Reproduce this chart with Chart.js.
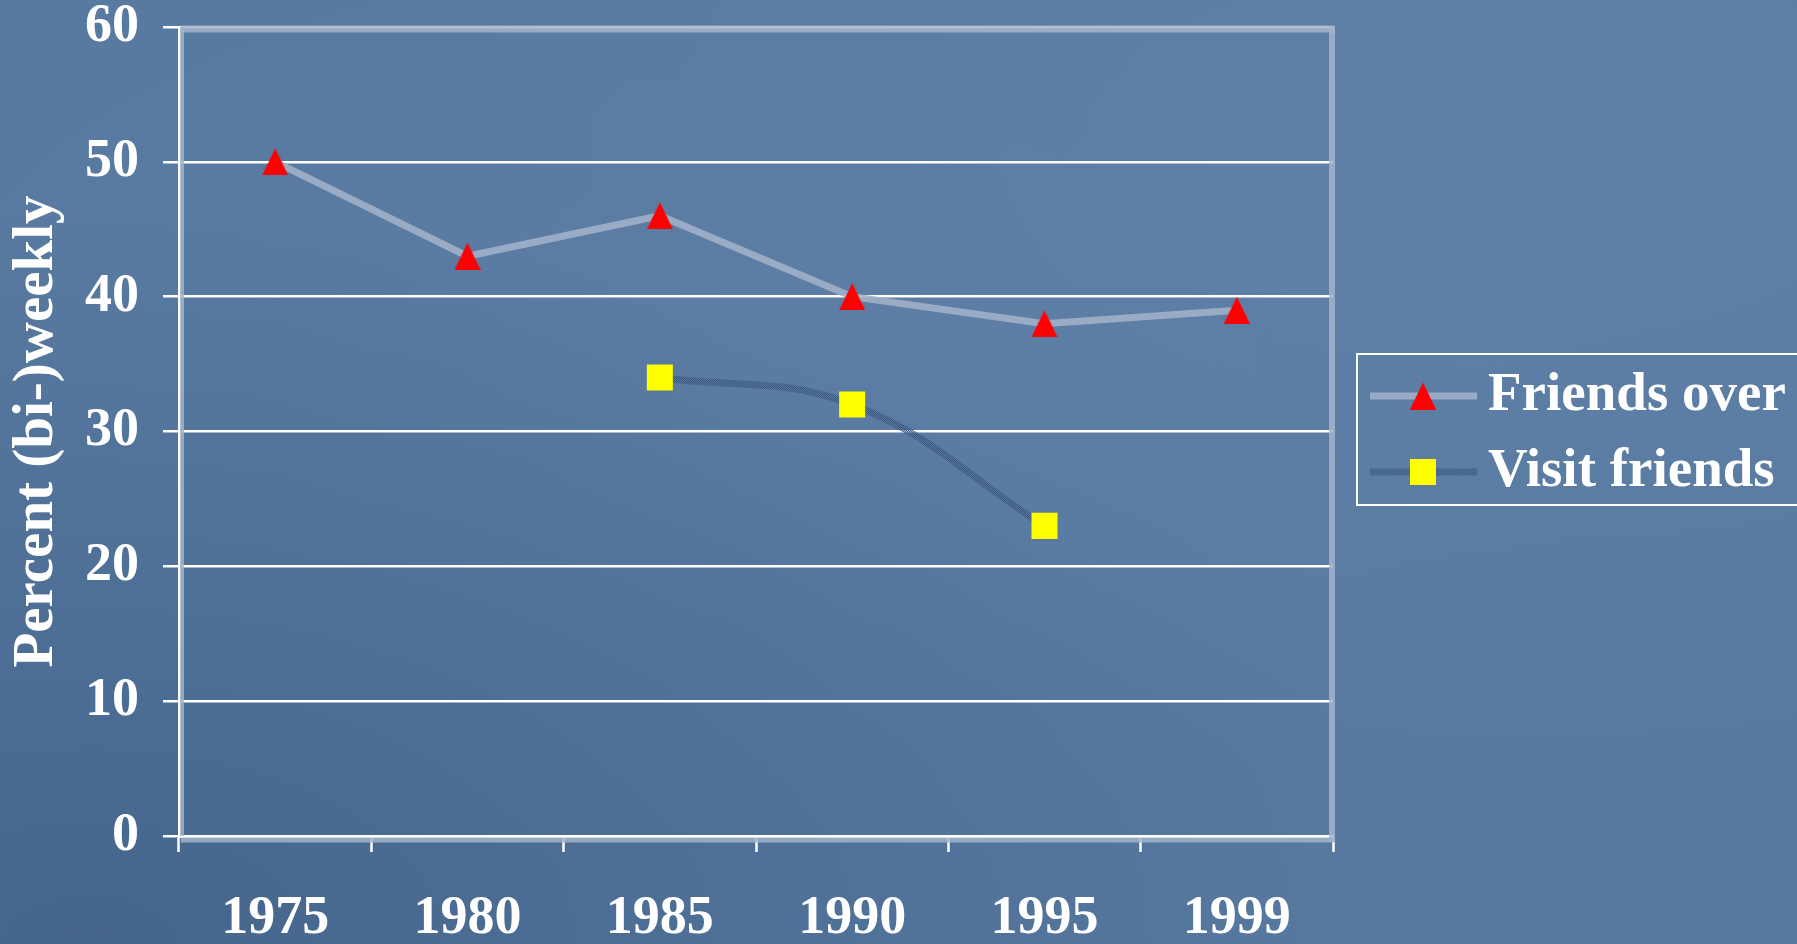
<!DOCTYPE html>
<html><head><meta charset="utf-8">
<script src="https://cdn.jsdelivr.net/npm/chart.js@4.4.0/dist/chart.umd.min.js"></script>
<style>
html,body{margin:0;padding:0;width:1797px;height:944px;overflow:hidden;}
body{
  background:
    radial-gradient(ellipse at 85% 15%, rgba(115,145,182,0.25), rgba(115,145,182,0) 55%),
    radial-gradient(ellipse at 5% 100%, rgba(45,75,115,0.45), rgba(45,75,115,0) 55%),
    radial-gradient(ellipse at 40% 40%, rgba(100,130,168,0.2), rgba(100,130,168,0) 60%),
    #587aa1;
}
#c{display:block;}
</style></head>
<body>
<canvas id="c" width="1797" height="944"></canvas>
<script>
// ---- data ----
const years = ['1975', '1980', '1985', '1990', '1995', '1999'];
const friendsOver = [50, 43, 46, 40, 38, 39];
const visitFriends = [null, null, 34, 32, 23, null];
const seriesLabels = ['Friends over', 'Visit friends'];
const yAxisTitle = 'Percent (bi-)weekly';
const yMin = 0, yMax = 60, yStep = 10;

// ---- styles ----
const FONT = '"Liberation Serif", "Times New Roman", serif';
const canvas = document.getElementById('c');
const mainCtx = canvas.getContext('2d');

function makeHatch() {
  const p = document.createElement('canvas');
  p.width = 2; p.height = 2;
  const g = p.getContext('2d');
  g.fillStyle = 'rgba(58,88,130,0.9)';
  g.fillRect(0, 0, 1, 1);
  g.fillRect(1, 1, 1, 1);
  g.fillStyle = 'rgba(75,105,145,0.5)';
  g.fillRect(1, 0, 1, 1);
  g.fillRect(0, 1, 1, 1);
  return mainCtx.createPattern(p, 'repeat');
}
const hatch = makeHatch();

function makeTriangle() {
  const w = 26, h = 27;
  const p = document.createElement('canvas');
  p.width = w; p.height = h;
  const g = p.getContext('2d');
  g.fillStyle = '#ff0000';
  g.beginPath(); g.moveTo(w / 2, 0); g.lineTo(w, h); g.lineTo(0, h); g.closePath(); g.fill();
  return p;
}
const triangleMark = makeTriangle();

const plotFrame = {
  id: 'plotFrame',
  beforeDatasetsDraw(chart) {
    const ctx = chart.ctx, a = chart.chartArea;
    ctx.save();
    ctx.strokeStyle = 'rgba(165,180,202,0.85)';
    ctx.lineWidth = 7;
    ctx.beginPath(); ctx.moveTo(a.left + 2, a.top + 2); ctx.lineTo(a.right + 2, a.top + 2); ctx.stroke();
    ctx.lineWidth = 6;
    ctx.beginPath(); ctx.moveTo(a.right - 1, a.top); ctx.lineTo(a.right - 1, a.bottom + 6); ctx.stroke();
    ctx.lineWidth = 4;
    ctx.beginPath(); ctx.moveTo(a.left + 3, a.top); ctx.lineTo(a.left + 3, a.bottom); ctx.stroke();
    ctx.lineWidth = 5;
    ctx.beginPath(); ctx.moveTo(a.left + 2, a.bottom + 4); ctx.lineTo(a.right + 2, a.bottom + 4); ctx.stroke();
    ctx.restore();
  }
};

const legendBox = {
  id: 'legendBox',
  afterDraw(chart) {
    const ctx = chart.ctx, a = chart.chartArea;
    const left = a.right + 24, top = 354, right = 1799, bottom = 505;
    const rows = [396, 472];
    ctx.save();
    ctx.strokeStyle = '#ffffff';
    ctx.lineWidth = 2;
    ctx.strokeRect(left, top, right - left, bottom - top);
    chart.data.datasets.forEach((ds, i) => {
      const y = rows[i];
      ctx.save();
      ctx.strokeStyle = ds.borderColor;
      ctx.lineWidth = ds.borderWidth;
      ctx.beginPath(); ctx.moveTo(left + 13, y); ctx.lineTo(left + 120, y); ctx.stroke();
      ctx.fillStyle = ds.pointBackgroundColor;
      ctx.strokeStyle = ds.pointBackgroundColor;
      Chart.helpers.drawPoint(ctx, {pointStyle: ds.pointStyle, radius: ds.pointRadius, rotation: 0, borderWidth: 0}, left + 66, y);
      ctx.restore();
      ctx.fillStyle = '#ffffff';
      ctx.font = 'bold 55px ' + FONT;
      ctx.textAlign = 'left';
      ctx.textBaseline = 'middle';
      ctx.fillText(ds.label, left + 131, y);
    });
    ctx.restore();
  }
};

new Chart(canvas, {
  type: 'line',
  data: {
    labels: years,
    datasets: [
      {
        label: seriesLabels[0],
        data: friendsOver,
        borderColor: 'rgba(162,178,202,0.88)',
        borderWidth: 7,
        tension: 0,
        pointStyle: triangleMark,
        pointRadius: 14,
        pointBackgroundColor: '#ff0000',
        pointBorderColor: '#ff0000',
        pointBorderWidth: 0,
        fill: false
      },
      {
        label: seriesLabels[1],
        data: visitFriends,
        borderColor: hatch,
        borderWidth: 7,
        tension: 0.4,
        spanGaps: true,
        pointStyle: 'rect',
        pointRadius: 18.4,
        pointBackgroundColor: '#ffff00',
        pointBorderColor: '#ffff00',
        pointBorderWidth: 0,
        fill: false
      }
    ]
  },
  options: {
    responsive: false,
    animation: false,
    events: [],
    layout: {padding: {left: 0, top: 27, right: 464, bottom: 0}},
    plugins: {legend: {display: false}, tooltip: {enabled: false}},
    scales: {
      x: {
        offset: true,
        ticks: {color: '#ffffff', font: {family: FONT, size: 54, weight: 'bold'}, padding: 35, maxRotation: 0, autoSkip: false},
        grid: {offset: true, drawOnChartArea: false, drawTicks: true, tickLength: 16, tickColor: '#ffffff', tickWidth: 2.5},
        border: {display: true, color: '#ffffff', width: 3},
        afterFit(s) { s.height = 108; s.paddingLeft = 0; s.paddingRight = 0; }
      },
      y: {
        min: yMin, max: yMax,
        ticks: {stepSize: yStep, color: '#ffffff', font: {family: FONT, size: 54, weight: 'bold'}, padding: 24},
        grid: {color: '#ffffff', lineWidth: 2.5, tickLength: 16, tickColor: '#ffffff', tickWidth: 2.5},
        border: {display: true, color: '#ffffff', width: 3},
        title: {display: true, text: yAxisTitle, color: '#ffffff', font: {family: FONT, size: 57, weight: 'bold'}, padding: {top: 3, bottom: 0}},
        afterFit(s) { s.width = 179; s.paddingTop = 0; s.paddingBottom = 0; }
      }
    }
  },
  plugins: [plotFrame, legendBox]
});
</script>
</body></html>
